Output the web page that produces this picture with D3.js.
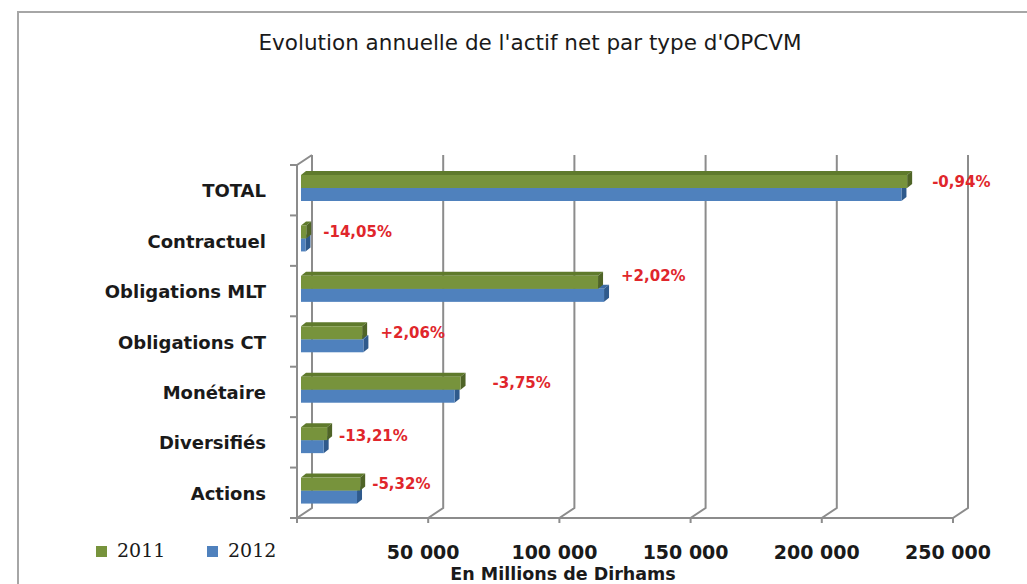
<!DOCTYPE html>
<html>
<head>
<meta charset="utf-8">
<script src="https://cdn.jsdelivr.net/npm/d3@7"></script>
<style>
  body { margin: 0; background: #fff; }
  svg text { font-family: "DejaVu Sans", sans-serif; }
</style>
</head>
<body>
<div id="chart"></div>
<script>
// donnees (de haut en bas)
var categories = ["TOTAL", "Contractuel", "Obligations MLT", "Obligations CT", "Monétaire", "Diversifiés", "Actions"];
var series = ["2011", "2012"];
var values2011 = [231000, 2000, 113200, 23300, 60800, 9950, 22550];
var values2012 = [228830, 1720, 115490, 23780, 58520, 8640, 21350];
var variations = ["-0,94%", "-14,05%", "+2,02%", "+2,06%", "-3,75%", "-13,21%", "-5,32%"];
var xTicks = [0, 50000, 100000, 150000, 200000, 250000];

// mise en page
var W = 1027, H = 584;
var depth = [15, -10];          // decalage du mur du fond (effet 3D)
var barDepth = [5, -4];         // epaisseur des barres
var labelNudge = [[8, 0], [0, 0], [0, -6], [0, 0], [15, 0], [-5, 2], [-5, 0]];

var colors = {
  "2011": { front: "#77933c", top: "#5f7a2c", side: "#4f6427" },
  "2012": { front: "#4f81bd", top: "#3e6ca3", side: "#2f5a8c" }
};

var svg = d3.select("#chart").append("svg")
  .attr("width", W)
  .attr("height", H);

// cadre
svg.append("path")
  .attr("d", "M18," + H + "V12H" + W)
  .attr("fill", "none")
  .attr("stroke", "#a6a6a6")
  .attr("stroke-width", 2);

// titre
svg.append("text")
  .attr("x", 530)
  .attr("y", 50)
  .attr("text-anchor", "middle")
  .style("font-size", "21.5px")
  .attr("fill", "#1a1a1a")
  .text("Evolution annuelle de l'actif net par type d'OPCVM");

// escalas
var x = d3.scaleLinear()
  .domain([0, 250000])
  .range([297, 953]);

var xBar = d3.scaleLinear()
  .domain([0, 250000])
  .range([301, 957]);

var y = d3.scaleBand()
  .domain(categories)
  .range([165, 518]);

var ySub = d3.scaleBand()
  .domain(series)
  .range([10, 36]);

var floorY = y.range()[1];
var topY = y.range()[0];

// grille + sol
var grid = svg.append("g").attr("fill", "none").attr("stroke", "#8c8c8c").attr("stroke-width", 2);

grid.selectAll("path.grid")
  .data(xTicks)
  .enter()
  .append("path")
  .attr("class", "grid")
  .attr("d", function(d) {
    var xf = x(d);
    return "M" + (xf + depth[0]) + "," + (topY + depth[1]) +
      "V" + (floorY + depth[1]) +
      "L" + xf + "," + floorY +
      "V" + (floorY + 5);
  });

// mur gauche
grid.append("path")
  .attr("d", "M" + x(0) + "," + floorY + "V" + topY +
    "L" + (x(0) + depth[0]) + "," + (topY + depth[1]));

// axe du sol
grid.append("path")
  .attr("d", "M" + x(0) + "," + floorY + "H" + x(250000));

// graduations des categories
var bounds = categories.map(function(c) { return y(c); }).concat([floorY]);
grid.selectAll("path.ytick")
  .data(bounds)
  .enter()
  .append("path")
  .attr("class", "ytick")
  .attr("d", function(d) { return "M" + (x(0) - 7) + "," + d + "H" + x(0); });

// barres 3D
var rows = categories.map(function(c, i) {
  return { cat: c, i: i, "2011": values2011[i], "2012": values2012[i] };
});

var barsG = svg.append("g");

function drawBar(g, s, row) {
  var x0 = xBar(0);
  var x1 = xBar(row[s]);
  var y0 = y(row.cat) + ySub(s);
  var h = ySub.bandwidth();
  var dx = barDepth[0], dy = barDepth[1];
  var col = colors[s];
  // face de dessus
  g.append("path")
    .attr("d", "M" + x0 + "," + y0 + "L" + (x0 + dx) + "," + (y0 + dy) +
      "H" + (x1 + dx) + "L" + x1 + "," + y0 + "Z")
    .attr("fill", col.top);
  // face laterale
  g.append("path")
    .attr("d", "M" + x1 + "," + y0 + "L" + (x1 + dx) + "," + (y0 + dy) +
      "V" + (y0 + h + dy) + "L" + x1 + "," + (y0 + h) + "Z")
    .attr("fill", col.side);
  // face avant
  g.append("rect")
    .attr("x", x0)
    .attr("y", y0)
    .attr("width", x1 - x0)
    .attr("height", h)
    .attr("fill", col.front);
}

// le bleu d'abord, le vert par dessus
rows.forEach(function(row) {
  var g = barsG.append("g");
  drawBar(g, "2012", row);
  drawBar(g, "2011", row);
});

// etiquettes de variation
svg.selectAll("text.var")
  .data(rows)
  .enter()
  .append("text")
  .attr("class", "var")
  .attr("x", function(d) {
    return xBar(Math.max(d["2011"], d["2012"])) + barDepth[0] + 12 + labelNudge[d.i][0];
  })
  .attr("y", function(d) { return y(d.cat) + 17 + labelNudge[d.i][1]; })
  .attr("dominant-baseline", "middle")
  .attr("fill", "#e0262b")
  .style("font-size", "15px")
  .style("font-weight", "bold")
  .text(function(d) { return variations[d.i]; });

// noms des categories
svg.selectAll("text.cat")
  .data(categories)
  .enter()
  .append("text")
  .attr("class", "cat")
  .attr("x", 266)
  .attr("y", function(d) { return y(d) + y.bandwidth() / 2 + 2; })
  .attr("text-anchor", "end")
  .attr("dominant-baseline", "middle")
  .style("font-size", "18px")
  .style("font-weight", "bold")
  .attr("fill", "#1a1a1a")
  .text(function(d) { return d; });

// axe X
var fmt = function(d) { return d === 0 ? "" : d3.format(",")(d).replace(/,/g, " "); };
svg.selectAll("text.xtick")
  .data(xTicks)
  .enter()
  .append("text")
  .attr("class", "xtick")
  .attr("x", function(d) { return x(d) - 5; })
  .attr("y", 559)
  .attr("text-anchor", "middle")
  .style("font-size", "19px")
  .style("font-weight", "bold")
  .attr("fill", "#1a1a1a")
  .text(fmt);

svg.append("text")
  .attr("x", 563)
  .attr("y", 580)
  .attr("text-anchor", "middle")
  .style("font-size", "17.5px")
  .style("font-weight", "bold")
  .attr("fill", "#1a1a1a")
  .text("En Millions de Dirhams");

// legende
var legend = svg.append("g").attr("transform", "translate(96,546)");
var leg = legend.selectAll("g")
  .data(series)
  .enter()
  .append("g")
  .attr("transform", function(d, i) { return "translate(" + (i * 111) + ",0)"; });

leg.append("rect")
  .attr("width", 11)
  .attr("height", 11)
  .attr("fill", function(d) { return colors[d].front; });

leg.append("text")
  .attr("x", 21)
  .attr("y", 6)
  .attr("dominant-baseline", "middle")
  .style("font-family", "'DejaVu Serif', serif")
  .style("font-size", "19px")
  .attr("fill", "#1a1a1a")
  .text(function(d) { return d; });
</script>
</body>
</html>
